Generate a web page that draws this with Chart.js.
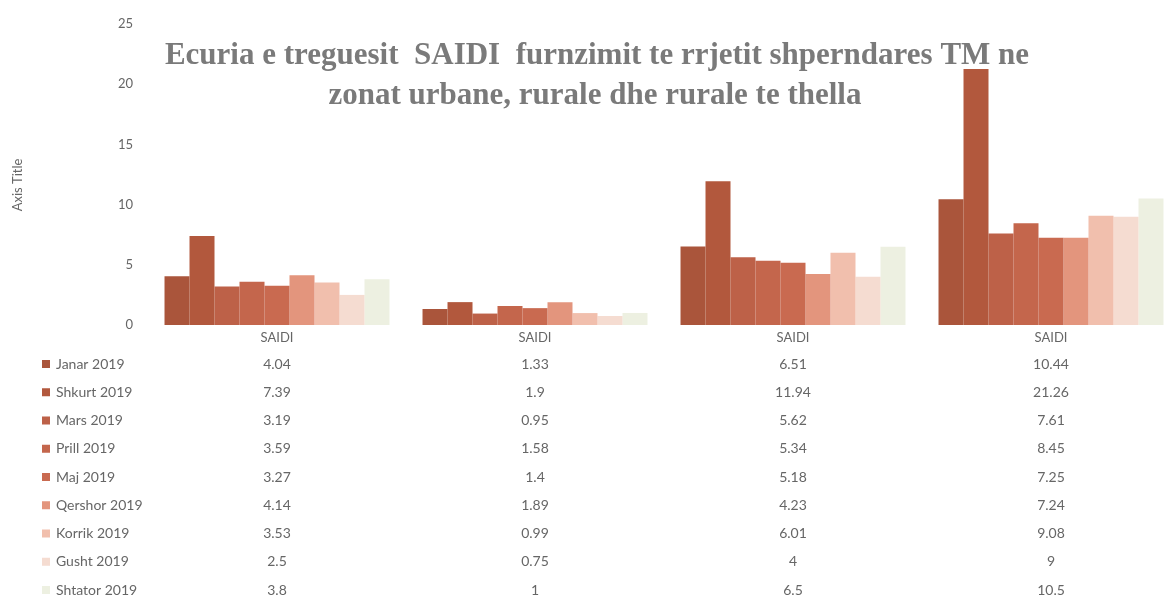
<!DOCTYPE html>
<html>
<head>
<meta charset="utf-8">
<script src="https://cdn.jsdelivr.net/npm/chart.js@4/dist/chart.umd.min.js"></script>
<style>
  body { margin: 0; background: #fff; overflow: hidden; }
  #wrap { width: 1164px; height: 596px; overflow: hidden; }
</style>
</head>
<body>
<div id="wrap"><canvas id="grafico" width="1180" height="596"></canvas></div>
<script>
var categorias = ['SAIDI', 'SAIDI', 'SAIDI', 'SAIDI'];
var muajt = ['Janar 2019', 'Shkurt 2019', 'Mars 2019', 'Prill 2019', 'Maj 2019',
             'Qershor 2019', 'Korrik 2019', 'Gusht 2019', 'Shtator 2019'];

var janar   = [4.04, 1.33, 6.51, 10.44];
var shkurt  = [7.39, 1.9, 11.94, 21.26];
var mars    = [3.19, 0.95, 5.62, 7.61];
var prill   = [3.59, 1.58, 5.34, 8.45];
var maj     = [3.27, 1.4, 5.18, 7.25];
var qershor = [4.14, 1.89, 4.23, 7.24];
var korrik  = [3.53, 0.99, 6.01, 9.08];
var gusht   = [2.5, 0.75, 4, 9];
var shtator = [3.8, 1, 6.5, 10.5];

var yTicks = [0, 5, 10, 15, 20, 25];

var vlerat = [janar, shkurt, mars, prill, maj, qershor, korrik, gusht, shtator];
var ngjyrat = ['#aa553b', '#b2583d', '#bd6148', '#c4664c', '#c96a50',
               '#e3957d', '#f1bfad', '#f5dcd1', '#edf0e1'];

var titulli = ['Ecuria e treguesit  SAIDI  furnzimit te rrjetit shperndares TM ne',
               'zonat urbane, rurale dhe rurale te thella'];

var gri = '#666666';
var fonti = 'Lato, "Open Sans", sans-serif';

var datasets = [];
for (var i = 0; i < muajt.length; i++) {
    datasets.push({
        label: muajt[i],
        data: vlerat[i],
        backgroundColor: ngjyrat[i],
        borderWidth: 0,
        categoryPercentage: 0.872,
        barPercentage: 1
    });
}

// tabela e te dhenave poshte grafikut, titulli dhe titulli i boshtit
var tabelaPlugin = {
    id: 'tabela',
    afterDraw: function (chart) {
        var ctx = chart.ctx;
        var x = chart.scales.x;
        var area = chart.chartArea;
        ctx.save();
        ctx.font = '14px ' + fonti;
        ctx.textBaseline = 'middle';
        for (var i = 0; i < muajt.length; i++) {
            var y = area.bottom + 39 + i * 28.25;
            ctx.fillStyle = ngjyrat[i];
            ctx.fillRect(42, y - 4, 8, 8);
            ctx.fillStyle = gri;
            ctx.textAlign = 'left';
            ctx.fillText(muajt[i], 56, y);
            ctx.textAlign = 'center';
            for (var j = 0; j < categorias.length; j++) {
                ctx.fillText(String(vlerat[i][j]), x.getPixelForValue(j), y);
            }
        }

        ctx.save();
        ctx.translate(18, 185);
        ctx.rotate(-Math.PI / 2);
        ctx.font = '13px ' + fonti;
        ctx.fillText('Axis Title', 0, 0);
        ctx.restore();

        ctx.font = 'bold 31px "Liberation Serif", "Times New Roman", serif';
        ctx.fillStyle = '#7a7a7a';
        ctx.textAlign = 'center';
        ctx.textBaseline = 'alphabetic';
        ctx.fillText(titulli[0], 597, 64);
        ctx.fillText(titulli[1], 595, 104);
        ctx.restore();
    }
};

new Chart(document.getElementById('grafico'), {
    type: 'bar',
    data: {
        labels: categorias,
        datasets: datasets
    },
    options: {
        responsive: false,
        animation: false,
        devicePixelRatio: 1,
        layout: { padding: { top: 24, bottom: 247, left: 0, right: 0 } },
        plugins: {
            legend: { display: false },
            tooltip: { enabled: false },
            title: { display: false }
        },
        scales: {
            x: {
                grid: { display: false, drawTicks: false },
                border: { display: false },
                ticks: { color: gri, font: { family: fonti, size: 13 }, padding: 5, maxRotation: 0 },
                afterFit: function (s) { s.height = 24; }
            },
            y: {
                min: 0,
                max: 25,
                afterBuildTicks: function (s) {
                    s.ticks = yTicks.map(function (v) { return { value: v }; });
                },
                grid: { display: false, drawTicks: false },
                border: { display: false },
                ticks: { color: gri, font: { family: fonti, size: 13 }, padding: 15 },
                afterFit: function (s) { s.width = 148; }
            }
        }
    },
    plugins: [tabelaPlugin]
});
</script>
</body>
</html>
